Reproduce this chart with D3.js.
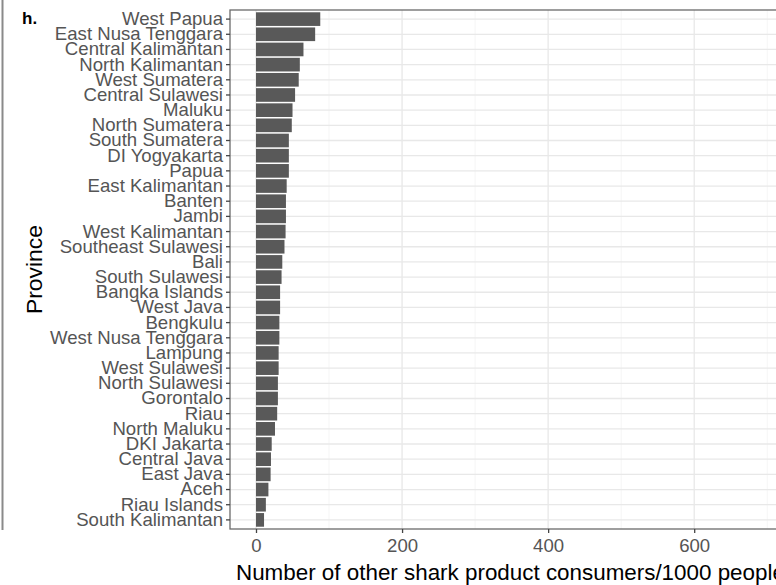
<!DOCTYPE html>
<html>
<head>
<meta charset="utf-8">
<script src="https://cdn.jsdelivr.net/npm/d3@7"></script>
<style>
  html, body { margin: 0; padding: 0; background: #fff; }
  svg { display: block; font-family: "Liberation Sans", Arial, Helvetica, sans-serif; }
</style>
</head>
<body>
<svg id="chart" width="776" height="585"></svg>
<script>
const provinces = [
  "West Papua", "East Nusa Tenggara", "Central Kalimantan", "North Kalimantan",
  "West Sumatera", "Central Sulawesi", "Maluku", "North Sumatera", "South Sumatera",
  "DI Yogyakarta", "Papua", "East Kalimantan", "Banten", "Jambi", "West Kalimantan",
  "Southeast Sulawesi", "Bali", "South Sulawesi", "Bangka Islands", "West Java",
  "Bengkulu", "West Nusa Tenggara", "Lampung", "West Sulawesi", "North Sulawesi",
  "Gorontalo", "Riau", "North Maluku", "DKI Jakarta", "Central Java", "East Java",
  "Aceh", "Riau Islands", "South Kalimantan"
];
const consumers = [
  88, 81, 65, 60,
  58.5, 53.5, 50, 49, 45,
  45, 45, 42, 41, 41, 40.5,
  39, 36, 35, 33, 33,
  32, 32, 31, 31, 30,
  30, 29, 26, 21.5, 20.5, 20,
  17, 13.5, 11
];
const xTicks = [0, 200, 400, 600];
const xMinor = [100, 300, 500, 700];
const xTitle = "Number of other shark product consumers/1000 people";
const yTitle = "Province";
const panelTag = "h.";

const data = provinces.map((p, i) => ({ province: p, value: consumers[i] }));

const svg = d3.select("#chart");
const panel = { left: 230, right: 802, top: 10, bottom: 529 };

const x = d3.scaleLinear().domain([-35.6, 747.6]).range([panel.left, panel.right]);
const y = d3.scaleBand().domain(provinces).range([panel.top, panel.bottom])
  .paddingInner(0.1).paddingOuter(0.15);

// left decorative line
svg.append("line").attr("x1", 2.5).attr("x2", 2.5).attr("y1", 0).attr("y2", 530)
  .attr("stroke", "#8a8a8a").attr("stroke-width", 2);

// panel background grid
const g = svg.append("g");
g.selectAll(".minor").data(xMinor).join("line")
  .attr("x1", d => x(d)).attr("x2", d => x(d))
  .attr("y1", panel.top).attr("y2", panel.bottom)
  .attr("stroke", "#f2f2f2").attr("stroke-width", 0.8);
g.selectAll(".majx").data(xTicks).join("line")
  .attr("x1", d => x(d)).attr("x2", d => x(d))
  .attr("y1", panel.top).attr("y2", panel.bottom)
  .attr("stroke", "#e8e8e8").attr("stroke-width", 1.3);
g.selectAll(".majy").data(provinces).join("line")
  .attr("x1", panel.left).attr("x2", panel.right)
  .attr("y1", d => y(d) + y.bandwidth() / 2).attr("y2", d => y(d) + y.bandwidth() / 2)
  .attr("stroke", "#e8e8e8").attr("stroke-width", 1.3);

// bars
g.selectAll(".bar").data(data).join("rect")
  .attr("x", x(0))
  .attr("y", d => y(d.province))
  .attr("width", d => x(d.value) - x(0))
  .attr("height", y.bandwidth())
  .attr("fill", "#595959");

// panel border
svg.append("rect")
  .attr("x", panel.left).attr("y", panel.top)
  .attr("width", panel.right - panel.left).attr("height", panel.bottom - panel.top)
  .attr("fill", "none").attr("stroke", "#6a6a6a").attr("stroke-width", 1.3);

// y axis
const yAxis = svg.append("g").attr("transform", `translate(${panel.left},0)`)
  .call(d3.axisLeft(y).tickSize(4).tickPadding(3));
yAxis.select(".domain").remove();
yAxis.selectAll(".tick line").attr("stroke", "#444").attr("stroke-width", 1.3);
yAxis.selectAll(".tick text").attr("fill", "#555")
  .style("font-size", "18.6px").style("font-family", "'Liberation Sans', Arial, sans-serif");

// x axis
const xAxis = svg.append("g").attr("transform", `translate(0,${panel.bottom})`)
  .call(d3.axisBottom(x).tickValues(xTicks).tickFormat(d3.format("d")).tickSize(4).tickPadding(6));
xAxis.select(".domain").remove();
xAxis.selectAll(".tick line").attr("stroke", "#444").attr("stroke-width", 1.3);
xAxis.selectAll(".tick text").attr("fill", "#555")
  .style("font-size", "18.6px").style("font-family", "'Liberation Sans', Arial, sans-serif");

// titles
svg.append("text").attr("x", 236).attr("y", 580)
  .attr("text-anchor", "start").attr("fill", "#000")
  .style("font-size", "22.4px").text(xTitle);
svg.append("text")
  .attr("transform", `translate(42,${(panel.top + panel.bottom) / 2}) rotate(-90)`)
  .attr("text-anchor", "middle").attr("fill", "#000")
  .style("font-size", "22.9px").text(yTitle);
svg.append("text").attr("x", 22).attr("y", 24)
  .attr("fill", "#000").style("font-size", "17px").style("font-weight", "bold")
  .text(panelTag);
</script>
</body>
</html>
